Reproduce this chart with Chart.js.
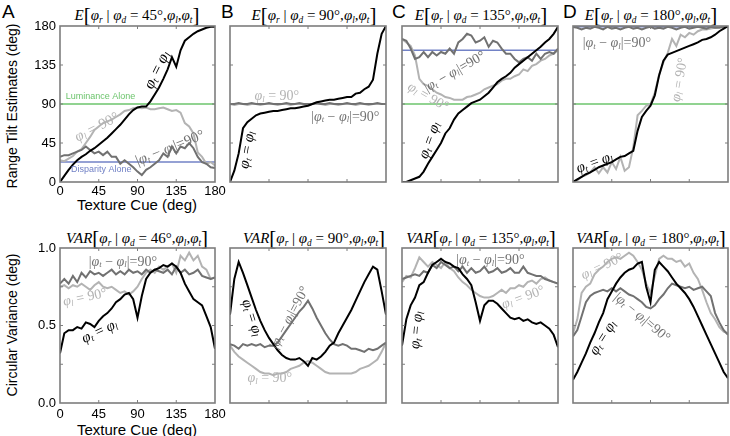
<!DOCTYPE html>
<html>
<head>
<meta charset="utf-8">
<script src="https://cdn.jsdelivr.net/npm/chart.js@4.4.1/dist/chart.umd.min.js"></script>
<style>
  body { margin: 0; background: #fff; }
  #fig { position: relative; width: 730px; height: 436px; overflow: hidden; font-family: "Liberation Sans", Arial, sans-serif; }
  #fig canvas { position: absolute; }
  .t { position: absolute; white-space: nowrap; line-height: 1; }
  .letter { font-size: 19px; top: 2px; }
  .title { font-family: "Liberation Serif", serif; font-size: 15px; transform: translateX(-50%); }
  .title .br { font-size: 21px; vertical-align: -2px; }
  .title sub { font-size: 62%; vertical-align: -0.35em; line-height: 0; font-style: italic; }
  .xlab { font-size: 15px; transform: translateX(-50%); }
  .ylab { font-size: 14px; transform: translate(-50%, -50%) rotate(-90deg); }
</style>
</head>
<body>
<div id="fig">
  <div class="t letter" style="left:2px">A</div>
  <div class="t letter" style="left:221px">B</div>
  <div class="t letter" style="left:392px">C</div>
  <div class="t letter" style="left:563px">D</div>

  <div class="t title" style="left:137px;top:5px"><i>E</i><span class="br">[</span><i>φ</i><sub>r</sub> | <i>φ</i><sub>d</sub> = 45°,<i>φ</i><sub>l</sub>,<i>φ</i><sub>t</sub><span class="br">]</span></div>
  <div class="t title" style="left:314px;top:5px"><i>E</i><span class="br">[</span><i>φ</i><sub>r</sub> | <i>φ</i><sub>d</sub> = 90°,<i>φ</i><sub>l</sub>,<i>φ</i><sub>t</sub><span class="br">]</span></div>
  <div class="t title" style="left:481px;top:5px"><i>E</i><span class="br">[</span><i>φ</i><sub>r</sub> | <i>φ</i><sub>d</sub> = 135°,<i>φ</i><sub>l</sub>,<i>φ</i><sub>t</sub><span class="br">]</span></div>
  <div class="t title" style="left:651px;top:5px"><i>E</i><span class="br">[</span><i>φ</i><sub>r</sub> | <i>φ</i><sub>d</sub> = 180°,<i>φ</i><sub>l</sub>,<i>φ</i><sub>t</sub><span class="br">]</span></div>

  <div class="t title" style="left:137px;top:228px"><i>VAR</i><span class="br">[</span><i>φ</i><sub>r</sub> | <i>φ</i><sub>d</sub> = 46°,<i>φ</i><sub>l</sub>,<i>φ</i><sub>t</sub><span class="br">]</span></div>
  <div class="t title" style="left:314px;top:228px"><i>VAR</i><span class="br">[</span><i>φ</i><sub>r</sub> | <i>φ</i><sub>d</sub> = 90°,<i>φ</i><sub>l</sub>,<i>φ</i><sub>t</sub><span class="br">]</span></div>
  <div class="t title" style="left:481px;top:228px"><i>VAR</i><span class="br">[</span><i>φ</i><sub>r</sub> | <i>φ</i><sub>d</sub> = 135°,<i>φ</i><sub>l</sub>,<i>φ</i><sub>t</sub><span class="br">]</span></div>
  <div class="t title" style="left:651px;top:228px"><i>VAR</i><span class="br">[</span><i>φ</i><sub>r</sub> | <i>φ</i><sub>d</sub> = 180°,<i>φ</i><sub>l</sub>,<i>φ</i><sub>t</sub><span class="br">]</span></div>

  <div class="t ylab" style="left:12px;top:106px">Range Tilt Estimates (deg)</div>
  <div class="t ylab" style="left:12px;top:325px">Circular Variance (deg)</div>
  <div class="t xlab" style="left:137px;top:197px">Texture Cue (deg)</div>
  <div class="t xlab" style="left:137px;top:422px">Texture Cue (deg)</div>

  <canvas id="eA"></canvas><canvas id="eB"></canvas><canvas id="eC"></canvas><canvas id="eD"></canvas>
  <canvas id="vA"></canvas><canvas id="vB"></canvas><canvas id="vC"></canvas><canvas id="vD"></canvas>
</div>
<script>
"use strict";

// texture cue angles (deg), shared by every series
const angles = [0, 5, 10, 15, 20, 25, 30, 35, 40, 45, 50, 55, 60, 65, 70, 75, 80, 85, 90,
  95, 100, 105, 110, 115, 120, 125, 130, 135, 140, 145, 150, 155, 160, 165, 170, 175, 180];

const xTickLabels = [0, 45, 90, 135, 180];
const estTickLabels = [0, 45, 90, 135, 180];
const varTickLabels = [0, 0.5, 1];

// range tilt estimates, top row
const eA_same = [0, 7, 14, 20, 25, 29, 32, 36, 39, 43, 47, 51, 56, 61, 66, 72, 78, 83, 86, 87, 87, 93, 101, 109, 119, 130, 144, 133, 152, 163, 167, 171, 174, 176, 178, 179, 179];
const eA_lum90 = [25, 24, 27, 30, 35, 38, 45, 52, 60, 64, 68, 70, 72, 75, 78, 82, 83, 85, 86, 85, 86, 84, 84, 85, 86, 84, 82, 83, 80, 68, 64, 56, 34, 29, 21, 23, 19];
const eA_diff90 = [29, 31, 31, 33, 35, 37, 41, 37, 33, 35, 31, 35, 29, 29, 21, 25, 21, 17, 12, 8, 14, 17, 21, 25, 33, 29, 41, 33, 41, 39, 45, 39, 29, 23, 21, 17, 16];

const eB_same = [0, 13, 33, 62, 69, 73, 77, 79, 80, 81, 82, 82, 83, 84, 85, 85, 86, 87, 88, 90, 92, 93, 94, 95, 95, 96, 97, 98, 98, 102, 103, 107, 110, 118, 148, 171, 180];
const eB_lum90 = [90, 89, 90, 90, 89, 90, 90, 89, 90, 90, 90, 89, 90, 90, 89, 90, 90, 90, 89, 90, 90, 90, 89, 90, 90, 89, 90, 90, 90, 89, 90, 90, 89, 90, 90, 90, 90];
const eB_diff90 = [90, 90, 91, 90, 90, 91, 90, 90, 90, 91, 90, 90, 90, 91, 90, 90, 91, 90, 90, 90, 91, 90, 90, 91, 90, 90, 90, 91, 90, 90, 91, 90, 90, 90, 91, 90, 90];

const eC_same = [0, 0, 2, 4, 6, 12, 21, 29, 37, 45, 56, 62, 72, 79, 83, 87, 91, 93, 95, 99, 103, 109, 115, 119, 122, 126, 132, 136, 140, 144, 148, 152, 156, 161, 165, 171, 179];
const eC_lum90 = [165, 161, 157, 146, 119, 113, 111, 107, 103, 101, 98, 97, 95, 95, 95, 98, 99, 101, 103, 107, 109, 111, 113, 117, 119, 119, 122, 124, 130, 128, 134, 136, 140, 142, 146, 148, 152];
const eC_diff90 = [165, 163, 154, 142, 144, 150, 144, 150, 146, 150, 148, 154, 148, 161, 165, 171, 169, 161, 163, 167, 156, 163, 161, 154, 148, 148, 142, 138, 142, 144, 140, 148, 142, 148, 150, 148, 154];

const eD_same = [0, 3, 6, 9, 11, 14, 17, 19, 21, 23, 26, 29, 30, 33, 36, 59, 75, 82, 88, 100, 123, 140, 147, 149, 151, 153, 155, 157, 159, 161, 164, 165, 167, 170, 174, 177, 180];
const eD_lum90 = [0, 2, 6, 8, 11, 17, 10, 17, 11, 23, 15, 29, 13, 17, 40, 77, 82, 88, 90, 103, 124, 138, 149, 165, 157, 170, 167, 172, 170, 174, 176, 176, 177, 178, 179, 179, 180];
const eD_diff90 = [179, 178, 176, 178, 177, 179, 178, 176, 179, 177, 178, 176, 178, 179, 177, 178, 176, 178, 179, 177, 178, 177, 179, 178, 176, 178, 179, 177, 178, 179, 178, 177, 179, 178, 178, 179, 179];

// single-cue reference estimates (deg)
const luminanceAlone = 90;
const disparityAlone = [23, 90, 152, 179];

// circular variance, bottom row
const vA_same = [0.32, 0.45, 0.47, 0.47, 0.49, 0.48, 0.52, 0.51, 0.49, 0.53, 0.56, 0.58, 0.61, 0.65, 0.67, 0.70, 0.71, 0.67, 0.55, 0.69, 0.80, 0.84, 0.86, 0.87, 0.89, 0.88, 0.90, 0.88, 0.84, 0.77, 0.72, 0.67, 0.65, 0.63, 0.56, 0.49, 0.35];
const vA_lum90 = [0.75, 0.76, 0.74, 0.76, 0.75, 0.77, 0.75, 0.73, 0.76, 0.78, 0.75, 0.74, 0.75, 0.73, 0.71, 0.72, 0.70, 0.72, 0.75, 0.80, 0.84, 0.86, 0.84, 0.88, 0.86, 0.88, 0.90, 0.84, 0.95, 0.92, 0.97, 0.92, 0.95, 0.88, 0.86, 0.80, 0.81];
const vA_diff90 = [0.77, 0.80, 0.77, 0.82, 0.78, 0.84, 0.81, 0.85, 0.83, 0.84, 0.82, 0.84, 0.86, 0.83, 0.85, 0.83, 0.86, 0.84, 0.85, 0.83, 0.86, 0.84, 0.86, 0.85, 0.84, 0.86, 0.83, 0.88, 0.84, 0.86, 0.83, 0.84, 0.86, 0.82, 0.81, 0.80, 0.81];

const vB_same = [0.57, 0.80, 0.91, 0.84, 0.76, 0.68, 0.60, 0.53, 0.47, 0.42, 0.38, 0.34, 0.31, 0.29, 0.28, 0.28, 0.29, 0.27, 0.24, 0.29, 0.28, 0.30, 0.33, 0.37, 0.39, 0.45, 0.50, 0.55, 0.60, 0.66, 0.72, 0.78, 0.83, 0.88, 0.86, 0.72, 0.57];
const vB_lum90 = [0.37, 0.33, 0.30, 0.28, 0.26, 0.24, 0.22, 0.20, 0.19, 0.19, 0.18, 0.19, 0.19, 0.20, 0.22, 0.23, 0.24, 0.26, 0.27, 0.26, 0.24, 0.22, 0.20, 0.19, 0.19, 0.19, 0.19, 0.19, 0.19, 0.20, 0.22, 0.23, 0.24, 0.26, 0.28, 0.33, 0.39];
const vB_diff90 = [0.38, 0.37, 0.35, 0.38, 0.37, 0.38, 0.37, 0.38, 0.36, 0.37, 0.37, 0.39, 0.43, 0.47, 0.51, 0.55, 0.59, 0.62, 0.66, 0.61, 0.55, 0.50, 0.45, 0.41, 0.38, 0.37, 0.38, 0.37, 0.35, 0.35, 0.34, 0.33, 0.35, 0.34, 0.35, 0.37, 0.39];

const vC_same = [0.37, 0.54, 0.63, 0.68, 0.76, 0.78, 0.84, 0.89, 0.91, 0.93, 0.91, 0.90, 0.88, 0.87, 0.83, 0.80, 0.76, 0.65, 0.53, 0.63, 0.66, 0.66, 0.64, 0.61, 0.58, 0.55, 0.54, 0.55, 0.53, 0.54, 0.52, 0.51, 0.52, 0.50, 0.48, 0.44, 0.36];
const vC_lum90 = [0.78, 0.82, 0.81, 0.87, 0.94, 0.91, 0.88, 0.91, 0.89, 0.87, 0.91, 0.87, 0.85, 0.81, 0.78, 0.76, 0.73, 0.71, 0.69, 0.68, 0.68, 0.69, 0.71, 0.73, 0.71, 0.74, 0.74, 0.76, 0.75, 0.78, 0.79, 0.77, 0.80, 0.81, 0.79, 0.78, 0.77];
const vC_diff90 = [0.80, 0.81, 0.82, 0.83, 0.82, 0.85, 0.84, 0.89, 0.87, 0.91, 0.89, 0.87, 0.88, 0.85, 0.88, 0.84, 0.87, 0.84, 0.85, 0.88, 0.84, 0.85, 0.87, 0.84, 0.85, 0.87, 0.84, 0.84, 0.88, 0.84, 0.83, 0.82, 0.82, 0.80, 0.79, 0.78, 0.77];

const vD_same = [0.15, 0.20, 0.26, 0.32, 0.39, 0.45, 0.52, 0.58, 0.67, 0.72, 0.77, 0.81, 0.84, 0.86, 0.87, 0.90, 0.91, 0.75, 0.65, 0.86, 0.91, 0.88, 0.85, 0.81, 0.77, 0.74, 0.71, 0.67, 0.62, 0.56, 0.50, 0.44, 0.38, 0.32, 0.26, 0.20, 0.16];
const vD_lum90 = [0.45, 0.54, 0.71, 0.75, 0.77, 0.83, 0.86, 0.88, 0.91, 0.93, 0.94, 0.93, 0.95, 0.97, 0.95, 0.91, 0.86, 0.77, 0.71, 0.82, 0.93, 0.95, 0.93, 0.93, 0.91, 0.92, 0.88, 0.90, 0.84, 0.80, 0.73, 0.65, 0.58, 0.54, 0.49, 0.46, 0.45];
const vD_diff90 = [0.43, 0.47, 0.56, 0.65, 0.69, 0.71, 0.72, 0.73, 0.72, 0.74, 0.72, 0.74, 0.72, 0.70, 0.69, 0.67, 0.65, 0.62, 0.61, 0.63, 0.67, 0.70, 0.74, 0.77, 0.76, 0.75, 0.74, 0.75, 0.73, 0.74, 0.75, 0.72, 0.69, 0.58, 0.52, 0.47, 0.44];

const BLACK = "#000000", DARK = "#717171", LIGHT = "#b3b3b3";
const GREEN = "#6cc46c", BLUE = "#7282c6", FRAME = "#7d7d7d";

// draws "φ_t = φ_l" style text: "_x" is a subscript, φ is italic
function drawRich(ctx, text, cx, cy, deg, color, size) {
  const segs = [];
  for (let i = 0; i < text.length; i++) {
    const c = text[i];
    if (c === "_") segs.push({ t: text[++i], font: `italic ${size * 0.62}px "Liberation Serif"`, dy: size * 0.22 });
    else segs.push({ t: c, font: (c === "φ" ? "italic " : "") + `${size}px "Liberation Serif"`, dy: 0 });
  }
  let w = 0;
  for (const s of segs) { ctx.font = s.font; s.w = ctx.measureText(s.t).width; w += s.w; }
  ctx.save();
  ctx.translate(cx, cy);
  ctx.rotate(deg * Math.PI / 180);
  ctx.fillStyle = color;
  ctx.textBaseline = "middle";
  ctx.textAlign = "left";
  let x = -w / 2;
  for (const s of segs) { ctx.font = s.font; ctx.fillText(s.t, x, s.dy); x += s.w; }
  ctx.restore();
}

const deco = {
  id: "deco",
  afterDatasetsDraw(chart, _args, o) {
    const { ctx, chartArea: a, scales: { x, y } } = chart;
    ctx.save();
    for (const n of o.notes) {
      const px = x.getPixelForValue(n.x), py = y.getPixelForValue(n.y);
      if (n.sans) {
        ctx.font = `${n.size}px "Liberation Sans"`;
        ctx.fillStyle = n.color;
        ctx.textAlign = "center";
        ctx.textBaseline = "middle";
        ctx.fillText(n.text, px, py);
      } else {
        drawRich(ctx, n.text, px, py, n.rot || 0, n.color, n.size || 14);
      }
    }
    ctx.strokeStyle = FRAME;
    ctx.lineWidth = 1.6;
    ctx.strokeRect(a.left, a.top, a.right - a.left, a.bottom - a.top);
    ctx.lineWidth = 1;
    const seg = (x1, y1, x2, y2) => { ctx.beginPath(); ctx.moveTo(x1, y1); ctx.lineTo(x2, y2); ctx.stroke(); };
    for (const v of [45, 90, 135]) {
      const px = x.getPixelForValue(v);
      seg(px, a.bottom, px, a.bottom - 3);
      seg(px, a.top, px, a.top + 3);
    }
    for (const v of o.yInner) {
      const py = y.getPixelForValue(v);
      seg(a.left, py, a.left + 3, py);
      seg(a.right, py, a.right - 3, py);
    }
    if (o.yLabels) {
      ctx.fillStyle = "#000";
      ctx.font = '13px "Liberation Sans"';
      ctx.textAlign = "center";
      ctx.textBaseline = "top";
      for (const v of xTickLabels) ctx.fillText(String(v), x.getPixelForValue(v), a.bottom + o.xGap);
      ctx.textAlign = "right";
      ctx.textBaseline = "middle";
      for (const v of o.yLabels) ctx.fillText(o.fmt(v), a.left - 4, y.getPixelForValue(v));
    }
    ctx.restore();
  },
};

function panel(id, box, yMax, lines, refs, notes, extra) {
  const canvas = document.getElementById(id);
  const pad = extra.yLabels
    ? { left: 44, top: 8, right: 14, bottom: 22 }
    : { left: 5, top: 5, right: 5, bottom: 5 };
  canvas.width = box.w + pad.left + pad.right;
  canvas.height = box.h + pad.top + pad.bottom;
  canvas.style.left = (box.x - pad.left) + "px";
  canvas.style.top = (box.y - pad.top) + "px";

  const datasets = lines.map((s) => ({
    data: angles.map((a, i) => ({ x: a, y: s.values[i] })),
    borderColor: s.color,
    borderWidth: 2,
    pointRadius: 0,
    tension: 0,
  }));
  for (const r of refs) {
    datasets.push({
      data: [{ x: 0, y: r.y }, { x: 180, y: r.y }],
      borderColor: r.color,
      borderWidth: 1.5,
      pointRadius: 0,
    });
  }

  new Chart(canvas, {
    type: "line",
    data: { datasets },
    options: {
      responsive: false,
      animation: false,
      events: [],
      layout: { padding: pad },
      plugins: {
        legend: { display: false },
        tooltip: { enabled: false },
        deco: { notes, ...extra },
      },
      scales: {
        x: { type: "linear", min: 0, max: 180, display: false },
        y: { type: "linear", min: 0, max: yMax, display: false },
      },
    },
    plugins: [deco],
  });
}

const topY = 26, topH = 156, botY = 248, botH = 155;
const cols = [{ x: 60, w: 155 }, { x: 230, w: 156 }, { x: 402, w: 156 }, { x: 573, w: 155 }];
const estInner = [45, 90, 135], varInner = [0.25, 0.5, 0.75];
const EQ = "φ_t = φ_l", L90 = "φ_l = 90°", D90 = "|φ_t − φ_l|=90°";

const estSets = [
  [eA_same, eA_lum90, eA_diff90],
  [eB_same, eB_lum90, eB_diff90],
  [eC_same, eC_lum90, eC_diff90],
  [eD_same, eD_lum90, eD_diff90],
];
const varSets = [
  [vA_same, vA_lum90, vA_diff90],
  [vB_same, vB_lum90, vB_diff90],
  [vC_same, vC_lum90, vC_diff90],
  [vD_same, vD_lum90, vD_diff90],
];

const estNotes = [
  [
    { text: EQ, x: 113, y: 129, rot: -64, color: BLACK, size: 16 },
    { text: L90, x: 43, y: 63, rot: -27, color: LIGHT, size: 15 },
    { text: D90, x: 128, y: 39, rot: -22, color: DARK, size: 15 },
    { text: "Luminance Alone", x: 47, y: 99, color: GREEN, size: 9, sans: true },
    { text: "Disparity Alone", x: 48, y: 14, color: BLUE, size: 9, sans: true },
  ],
  [
    { text: L90, x: 54, y: 99, color: LIGHT, size: 14 },
    { text: D90, x: 133, y: 75, color: DARK, size: 14 },
    { text: EQ, x: 20, y: 37, rot: -80, color: BLACK, size: 15 },
  ],
  [
    { text: D90, x: 61, y: 127, rot: -30, color: DARK, size: 14 },
    { text: L90, x: 30, y: 98, rot: 30, color: LIGHT, size: 14 },
    { text: EQ, x: 32, y: 48, rot: -70, color: BLACK, size: 15 },
  ],
  [
    { text: D90, x: 51, y: 160, color: DARK, size: 14 },
    { text: L90, x: 124, y: 118, rot: -80, color: LIGHT, size: 14 },
    { text: EQ, x: 25, y: 22, rot: -20, color: BLACK, size: 15 },
  ],
];
const varNotes = [
  [
    { text: D90, x: 73, y: 0.91, color: DARK, size: 14 },
    { text: L90, x: 29, y: 0.68, rot: -12, color: LIGHT, size: 14 },
    { text: EQ, x: 46, y: 0.46, rot: -25, color: BLACK, size: 15 },
  ],
  [
    { text: EQ, x: 25, y: 0.55, rot: 72, color: BLACK, size: 15 },
    { text: D90, x: 69, y: 0.55, rot: -62, color: DARK, size: 14 },
    { text: L90, x: 46, y: 0.16, color: LIGHT, size: 14 },
  ],
  [
    { text: D90, x: 102, y: 0.92, color: DARK, size: 14 },
    { text: L90, x: 140, y: 0.68, rot: -20, color: LIGHT, size: 14 },
    { text: EQ, x: 17, y: 0.47, rot: -85, color: BLACK, size: 15 },
  ],
  [
    { text: L90, x: 34, y: 0.88, rot: -25, color: LIGHT, size: 14 },
    { text: D90, x: 80, y: 0.55, rot: 40, color: DARK, size: 14 },
    { text: EQ, x: 35, y: 0.42, rot: -58, color: BLACK, size: 15 },
  ],
];

["eA", "eB", "eC", "eD"].forEach((id, i) => {
  const [same, lum, diff] = estSets[i];
  panel(id, { x: cols[i].x, w: cols[i].w, y: topY, h: topH }, 180,
    [{ values: same, color: BLACK }, { values: diff, color: DARK }, { values: lum, color: LIGHT }],
    [{ y: disparityAlone[i], color: BLUE }, { y: luminanceAlone, color: GREEN }],
    estNotes[i],
    i === 0
      ? { yInner: estInner, yLabels: estTickLabels, fmt: (v) => String(v), xGap: 3 }
      : { yInner: estInner });
});

["vA", "vB", "vC", "vD"].forEach((id, i) => {
  const [same, lum, diff] = varSets[i];
  panel(id, { x: cols[i].x, w: cols[i].w, y: botY, h: botH }, 1,
    [{ values: same, color: BLACK }, { values: diff, color: DARK }, { values: lum, color: LIGHT }],
    [],
    varNotes[i],
    i === 0
      ? { yInner: varInner, yLabels: varTickLabels, fmt: (v) => v.toFixed(1), xGap: 5 }
      : { yInner: varInner });
});
</script>
</body>
</html>
